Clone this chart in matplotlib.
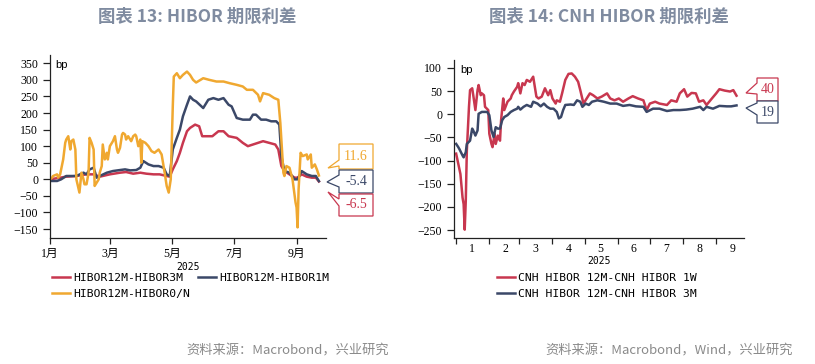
import numpy as np
import matplotlib
matplotlib.use("Agg")
import matplotlib.pyplot as plt
import matplotlib.dates as mdates
from matplotlib.patches import Polygon
from matplotlib.ticker import FuncFormatter, NullFormatter

W, H = 815, 364
RED = "#c8374f"
NAVY = "#3b4868"
ORANGE = "#f0a830"
TITLE_C = "#7f8ba0"

# ---- data: chart 13 (days counted from 2025-01-01, values in bp) ----
days_3m = [0, 10, 16, 26, 36, 43, 49, 59, 69, 75, 82, 89, 95, 102, 108, 115, 118, 121, 125, 128,
           131, 135, 138, 143, 147, 150, 155, 160, 166, 171, 176, 184, 190, 195, 200, 205, 210,
           216, 222, 225, 228, 231, 236, 241, 244, 248, 253, 258, 262, 265]
hibor_3m = [0, 5, 8, 10, 15, 15, 8, 15, 20, 22, 17, 20, 17, 15, 15, 10, 8, 30, 55, 80,
            110, 145, 155, 165, 160, 130, 130, 130, 145, 145, 130, 125, 110, 100, 105, 110, 115,
            110, 105, 90, 40, 25, 15, 5, 5, 15, 8, 5, 5, -6.5]

days_1m = [0, 7, 11, 16, 26, 33, 36, 39, 43, 46, 49, 56, 62, 69, 74, 79, 85, 89, 92, 97, 102,
           107, 112, 115, 118, 121, 125, 128, 131, 135, 138, 141, 144, 151, 156, 161, 166, 171,
           176, 179, 184, 190, 197, 200, 203, 208, 213, 218, 223, 226, 228, 231, 236, 241, 244,
           248, 253, 258, 262, 265]
hibor_1m = [-5, -5, 0, 10, 10, 20, 15, 30, 35, 5, 10, 20, 25, 28, 30, 27, 28, 35, 55, 45, 40,
            40, 35, 15, 10, 90, 125, 150, 190, 225, 250, 240, 235, 215, 240, 245, 240, 245,
            225, 220, 185, 180, 180, 195, 195, 180, 180, 175, 175, 165, 70, 25, 20, 0, 0,
            25, 15, 10, 10, -5.4]

days_on = [0, 2, 3, 7, 8, 10, 11, 13, 15, 16, 18, 20, 21, 23, 25, 26, 29, 31, 33, 34, 36, 38,
           39, 41, 43, 44, 46, 48, 49, 51, 52, 54, 56, 57, 59, 61, 62, 64, 66, 67, 69, 71, 72,
           74, 75, 77, 79, 80, 82, 84, 85, 87, 89, 90, 91, 94, 97, 100, 103, 107, 110, 113,
           115, 117, 119, 121, 122, 125, 128, 131, 135, 138, 141, 144, 151, 157, 164, 171,
           177, 184, 190, 194, 200, 205, 207, 210, 216, 221, 225, 227, 230, 231, 233, 236,
           239, 242, 243, 244, 245, 247, 249, 253, 254, 257, 258, 261, 263, 265]
hibor_on = [0, 5, 10, 15, 5, 15, 30, 60, 110, 120, 130, 90, 115, 120, 90, 0, -40, 20, 0, -15,
            -15, 20, 125, 110, 90, -20, -10, 0, 20, 40, 105, 60, 80, 60, 100, 110, 115, 130,
            90, 80, 95, 135, 140, 135, 120, 130, 120, 115, 130, 135, 130, 100, 120, 50, 115,
            110, 100, 85, 80, 90, 75, 20, -20, -40, 0, 220, 310, 320, 305, 315, 325, 315, 300,
            292, 305, 300, 295, 295, 290, 285, 280, 270, 270, 255, 235, 260, 255, 245, 240,
            170, 20, 10, 40, 35, 0, -70, -85, -145, -30, 80, 70, 75, 60, 75, 35, 45, 30, 11.6]

# ---- data: chart 14 ----
days_1w = [0, 2, 4, 6, 7, 8, 9, 10, 12, 13, 15, 16, 18, 20, 21, 23, 24, 26, 27, 30, 31, 33, 34,
           36, 37, 39, 41, 42, 44, 45, 48, 51, 52, 54, 57, 58, 60, 62, 64, 66, 69, 72, 75, 77,
           80, 83, 86, 88, 90, 93, 94, 97, 99, 102, 105, 108, 111, 114, 116, 119, 122, 125,
           128, 132, 136, 141, 144, 148, 152, 156, 161, 165, 170, 175, 178, 181, 186, 190,
           197, 201, 206, 209, 213, 216, 220, 224, 227, 231, 234, 239, 243, 246, 251, 256,
           259, 262]
cnh_1w = [-85, -107, -129, -180, -194, -249, -187, -78, 16, 52, 56, 41, 9, 52, 63, 41, 45, 41,
          16, 9, -42, -64, -71, -42, -64, -46, -57, -13, 34, 9, 27, 34, 41, 49, 59, 67, 45, 67,
          63, 74, 70, 81, 38, 34, 38, 56, 41, 52, 34, 23, 30, 27, 45, 74, 87, 88, 81, 70, 52,
          23, 34, 45, 41, 34, 38, 45, 34, 30, 34, 27, 34, 39, 34, 30, 9, 23, 27, 23, 20, 30,
          27, 45, 54, 38, 46, 45, 27, 30, 20, 34, 45, 54, 51, 49, 52, 40]

days_3m_cnh = [0, 2, 3, 6, 7, 9, 10, 13, 15, 16, 18, 20, 21, 24, 29, 31, 33, 35, 37, 39, 41,
               43, 45, 48, 51, 54, 57, 58, 60, 63, 66, 70, 72, 76, 79, 82, 85, 88, 91, 94, 96,
               98, 100, 102, 107, 110, 113, 116, 118, 121, 124, 127, 132, 138, 144, 150, 156,
               162, 168, 175, 178, 184, 190, 197, 203, 209, 215, 221, 228, 231, 234, 240,
               246, 253, 257, 262]
cnh_3m = [-64, -71, -75, -89, -93, -82, -64, -57, -31, -35, -46, -35, 1, 5, 5, -2, -35, -49,
          -28, -31, -31, -13, -6, -2, 5, 9, 12, 16, 10, 16, 20, 16, 27, 23, 17, 23, 16, 12, 12,
          5, -9, -6, 9, 20, 21, 20, 30, 27, 16, 23, 20, 27, 30, 27, 23, 23, 18, 20, 17, 16, 5,
          12, 12, 7, 9, 9, 10, 12, 16, 9, 16, 12, 18, 17, 17, 19]


def to_dates(days):
    return np.datetime64("2025-01-01") + np.array(days).astype("timedelta64[D]")


def px(x, y):
    return x / W, 1 - y / H


def callout(fig, box, tail, text, color):
    x0, x1, yt, yb = box
    tx, ty, ya, yb2 = tail
    pts = [px(x0, yt), px(x1, yt), px(x1, yb), px(x0, yb), px(x0, yb2), px(tx, ty), px(x0, ya)]
    fig.patches.append(Polygon(pts, closed=True, transform=fig.transFigure, facecolor="white",
                               edgecolor=color, lw=0.9, zorder=5))
    cx, cy = px((x0 + x1) / 2, (yt + yb) / 2)
    fig.text(cx, cy, text, color=color, ha="center", va="center", fontsize=10,
             family="Liberation Serif", zorder=6)


def style_axes(ax):
    for s in ("top", "right"):
        ax.spines[s].set_visible(False)
    for s in ("left", "bottom"):
        ax.spines[s].set_color("#222222")
        ax.spines[s].set_linewidth(0.9)
    ax.tick_params(axis="both", labelsize=8.5, color="#222222", width=0.9)
    ax.tick_params(axis="y", length=5)
    ax.tick_params(axis="x", length=4)
    for lab in ax.get_yticklabels():
        lab.set_family("Liberation Serif")
    ax.text(0.02, 0.97, "bp", transform=ax.transAxes, fontsize=8, family="Liberation Sans",
            va="top", ha="left")


fig = plt.figure(figsize=(W / 100, H / 100), dpi=100)

# ---------------- chart 13 ----------------
ax1 = fig.add_axes([50 / W, 1 - 238 / H, 276 / W, 183 / H])
l3, = ax1.plot(to_dates(days_3m), hibor_3m, color=RED, lw=1.8, label="HIBOR12M-HIBOR3M")
l1, = ax1.plot(to_dates(days_1m), hibor_1m, color=NAVY, lw=1.8, label="HIBOR12M-HIBOR1M")
lo, = ax1.plot(to_dates(days_on), hibor_on, color=ORANGE, lw=1.8, label="HIBOR12M-HIBOR0/N")
ax1.set_ylim(-177, 375)
ax1.set_yticks(np.arange(-150, 351, 50))
ax1.set_xlim(np.datetime64("2025-01-01"), np.datetime64("2025-09-30"))
ax1.xaxis.set_major_locator(mdates.MonthLocator(bymonth=[1, 3, 5, 7, 9]))
ax1.xaxis.set_major_formatter(FuncFormatter(lambda v, p: f"{mdates.num2date(v).month}月"))
style_axes(ax1)
for lab in ax1.get_xticklabels():
    lab.set_family(["Liberation Serif", "Noto Sans CJK SC"])
ax1.set_xlabel("2025", fontsize=7, family="DejaVu Sans Mono", labelpad=1)
ax1.legend(handles=[l3, lo, l1], ncol=2, loc="upper left", bbox_to_anchor=px(52, 273),
           bbox_transform=fig.transFigure, frameon=False,
           prop={"family": "DejaVu Sans Mono", "size": 8.2}, handlelength=1.6,
           handletextpad=0.25, columnspacing=0.7, labelspacing=0.55, borderaxespad=0,
           borderpad=0)

callout(fig, (339, 373, 144, 169), (328, 168, 160, 166), f"{hibor_on[-1]:.1f}", ORANGE)
callout(fig, (339, 373, 170, 193), (327, 182, 175, 187), f"{hibor_1m[-1]:.1f}", NAVY)
callout(fig, (339, 373, 194, 216), (328, 192, 199, 206), f"{hibor_3m[-1]:.1f}", RED)

# ---------------- chart 14 ----------------
ax2 = fig.add_axes([454 / W, 1 - 238 / H, 290 / W, 178 / H])
r1, = ax2.plot(to_dates(days_1w), cnh_1w, color=RED, lw=1.8, label="CNH HIBOR 12M-CNH HIBOR 1W")
r3, = ax2.plot(to_dates(days_3m_cnh), cnh_3m, color=NAVY, lw=1.8, label="CNH HIBOR 12M-CNH HIBOR 3M")
ax2.set_ylim(-267, 117)
ax2.set_yticks(np.arange(-250, 101, 50))
ax2.set_xlim(np.datetime64("2024-12-30"), np.datetime64("2025-09-27"))
ax2.xaxis.set_major_locator(mdates.MonthLocator())
ax2.xaxis.set_major_formatter(NullFormatter())
ax2.xaxis.set_minor_locator(mdates.MonthLocator(bymonthday=16))
ax2.xaxis.set_minor_formatter(FuncFormatter(lambda v, p: f"{mdates.num2date(v).month}"))
style_axes(ax2)
ax2.tick_params(axis="x", which="minor", length=0, labelsize=8.5)
for lab in ax2.get_xticklabels(minor=True):
    lab.set_family("Liberation Serif")
ax2.set_xlabel("2025", fontsize=7, family="DejaVu Sans Mono", labelpad=1)
ax2.legend(handles=[r1, r3], loc="upper left", bbox_to_anchor=px(497, 273),
           bbox_transform=fig.transFigure, frameon=False,
           prop={"family": "DejaVu Sans Mono", "size": 8.2}, handlelength=1.6,
           handletextpad=0.25, labelspacing=0.55, borderaxespad=0, borderpad=0)

callout(fig, (757, 778, 78, 101), (746, 93, 83, 94), f"{cnh_1w[-1]:.0f}", RED)
callout(fig, (757, 778, 101, 123), (746, 108, 103, 115), f"{cnh_3m[-1]:.0f}", NAVY)

# ---------------- titles and sources ----------------
cjk = ["Noto Sans CJK SC", "DejaVu Sans"]
fig.text(*px(197, 17), "图表 13: HIBOR 期限利差", ha="center", va="center", fontsize=12.5,
         fontweight="bold", color=TITLE_C, family=cjk)
fig.text(*px(609, 17), "图表 14: CNH HIBOR 期限利差", ha="center", va="center", fontsize=12.5,
         fontweight="bold", color=TITLE_C, family=cjk)
fig.text(*px(389, 351), "资料来源：Macrobond，兴业研究", ha="right", va="center", fontsize=9.5,
         color="#8a8a8a", family=cjk)
fig.text(*px(793, 351), "资料来源：Macrobond，Wind，兴业研究", ha="right", va="center",
         fontsize=9.5, color="#8a8a8a", family=cjk)

fig.savefig("out.png", dpi=100)
